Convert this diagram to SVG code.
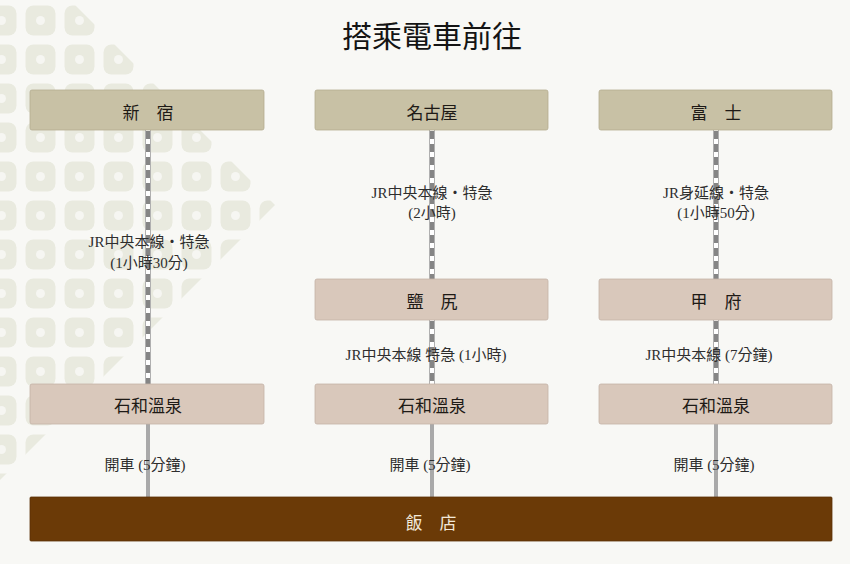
<svg xmlns="http://www.w3.org/2000/svg" width="850" height="564" viewBox="0 0 850 564">
<defs>
<pattern id="tiles" patternUnits="userSpaceOnUse" x="-14" y="5" width="39" height="39">
<rect x="0.5" y="0.5" width="30" height="30" rx="8" fill="#e9eadf"/>
<circle cx="15.5" cy="15.5" r="4.5" fill="#f6f6f2"/>
</pattern>
<clipPath id="diamond"><polygon points="0,-70 275,205 0,480"/></clipPath>
</defs>
<style>
.top{fill:#c8c1a5;stroke:#b4ac90;stroke-width:0.8}
.mid{fill:#d9c8bb;stroke:#c4b3a6;stroke-width:0.8}
.hotel{fill:#6b3a07;stroke:#5a3005;stroke-width:0.8}
.nt{font-family:"Liberation Serif","Noto Sans CJK TC",serif;font-size:17px;fill:#1e1a16;text-anchor:middle}
.lb{font-family:"Liberation Serif","Noto Sans CJK TC",serif;font-size:15px;fill:#2e2e2e;text-anchor:middle}
.title{font-family:"Liberation Serif","Noto Sans CJK TC",serif;font-size:30px;fill:#141414;text-anchor:middle}
.rail-o{stroke:#b0b0b0;stroke-width:6;fill:none}
.rail-w{stroke:#ffffff;stroke-width:4;fill:none}
.rail-d{stroke:#858585;stroke-width:4;stroke-dasharray:8 5;fill:none}
.road{stroke:#a9a9a9;stroke-width:4;fill:none}
</style>
<rect x="0" y="0" width="850" height="564" fill="#f8f8f5"/>
<rect x="0" y="0" width="300" height="480" fill="url(#tiles)" clip-path="url(#diamond)"/>
<text class="title" x="432" y="47">搭乘電車前往</text>
<g id="connectors">
<path class="rail-o" d="M148,130V384M432,130V279M716,130V279M432,320V384M716,320V384"/>
<path class="rail-w" d="M148,130V384M432,130V279M716,130V279M432,320V384M716,320V384"/>
<path class="rail-d" d="M148,131V384M432,131V279M716,131V279M432,321V384M716,321V384"/>
<path class="road" d="M148,424V497M432,424V497M716,424V497"/>
<text class="lb" x="149" y="247">JR中央本線・特急</text>
<text class="lb" x="149" y="268">(1小時30分)</text>
<text class="lb" x="432" y="198">JR中央本線・特急</text>
<text class="lb" x="432" y="218">(2小時)</text>
<text class="lb" x="716" y="198">JR身延線・特急</text>
<text class="lb" x="716" y="218">(1小時50分)</text>
<text class="lb" x="426" y="360">JR中央本線 特急 (1小時)</text>
<text class="lb" x="709" y="360">JR中央本線 (7分鐘)</text>
<text class="lb" x="145" y="470">開車 (5分鐘)</text>
<text class="lb" x="430" y="470">開車 (5分鐘)</text>
<text class="lb" x="714" y="470">開車 (5分鐘)</text>
</g>
<g id="shinjuku"><rect class="top" x="30" y="90" width="234" height="40" rx="2"/><text class="nt" x="148" y="119">新　宿</text></g>
<g id="nagoya"><rect class="top" x="315" y="90" width="233" height="40" rx="2"/><text class="nt" x="432" y="119">名古屋</text></g>
<g id="fuji"><rect class="top" x="599" y="90" width="233" height="40" rx="2"/><text class="nt" x="716" y="119">富　士</text></g>
<g id="shiojiri"><rect class="mid" x="315" y="279" width="233" height="41" rx="2"/><text class="nt" x="432" y="308">鹽　尻</text></g>
<g id="kofu"><rect class="mid" x="599" y="279" width="233" height="41" rx="2"/><text class="nt" x="716" y="308">甲　府</text></g>
<g id="isawa1"><rect class="mid" x="30" y="384" width="234" height="40" rx="2"/><text class="nt" x="148" y="412">石和溫泉</text></g>
<g id="isawa2"><rect class="mid" x="315" y="384" width="233" height="40" rx="2"/><text class="nt" x="432" y="412">石和溫泉</text></g>
<g id="isawa3"><rect class="mid" x="599" y="384" width="233" height="40" rx="2"/><text class="nt" x="716" y="412">石和溫泉</text></g>
<g id="hotel"><rect class="hotel" x="30" y="497" width="802" height="44" rx="1"/><text class="nt" x="431" y="529" style="fill:#f2e8da">飯　店</text></g>
</svg>
